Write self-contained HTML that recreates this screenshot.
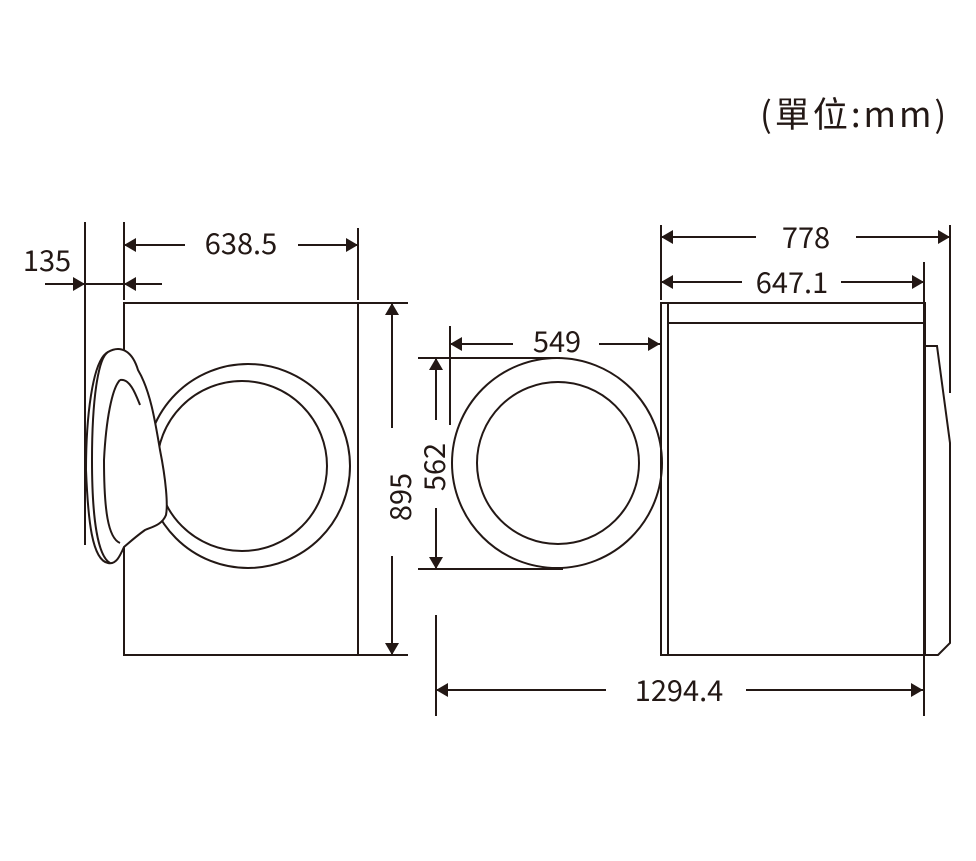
<!DOCTYPE html>
<html><head><meta charset="utf-8"><style>
html,body{margin:0;padding:0;background:#fff;}
svg{display:block;}
text{font-family:"Noto Sans CJK TC","Liberation Sans",sans-serif;fill:#231815;font-weight:400;}
</style></head><body>
<svg width="976" height="861" viewBox="0 0 976 861" xmlns="http://www.w3.org/2000/svg">
<defs>
<marker id="a" viewBox="0 0 12 14" refX="12" refY="7" markerWidth="12" markerHeight="14" markerUnits="userSpaceOnUse" orient="auto-start-reverse">
<path d="M0,0 L12,7 L0,14 Z" fill="#231815"/></marker>
</defs>
<g stroke="#231815" stroke-width="2" fill="none">
<rect x="124" y="303" width="234" height="352"/>
<circle cx="248" cy="466" r="102"/>
<circle cx="242" cy="466" r="85"/>
<path d="M108,352 C120,345 132,350 138,370 C150,390 155,420 160,450 C166,480 168,505 166,515 C162,525 152,527 145,530 C138,535 132,540 124,547 C120,556 116,565 108,563 C92,560 88,520 86,470 C86,420 92,360 108,352 Z" fill="#fff"/>
<path d="M120,380 C112,388 106,420 104,460 C104,510 108,538 120,543"/>
<path d="M120,380 C130,378 136,395 140,405"/>
<path d="M108,352 C98,358 92,400 92,460 C92,520 98,556 110,563"/>
<line x1="85" y1="222" x2="85" y2="545"/>
<line x1="124" y1="222" x2="124" y2="300"/>
<line x1="358" y1="228" x2="358" y2="300"/>
<line x1="124" y1="245" x2="185" y2="245" marker-start="url(#a)"/>
<line x1="298" y1="245" x2="358" y2="245" marker-end="url(#a)"/>
<line x1="45" y1="284" x2="85" y2="284" marker-end="url(#a)"/>
<line x1="85" y1="284" x2="124" y2="284"/>
<line x1="124" y1="284" x2="162" y2="284" marker-start="url(#a)"/>
<line x1="358" y1="303" x2="408" y2="303"/>
<line x1="358" y1="655" x2="408" y2="655"/>
<line x1="392" y1="303" x2="392" y2="428" marker-start="url(#a)"/>
<line x1="392" y1="556" x2="392" y2="655" marker-end="url(#a)"/>
<circle cx="557" cy="463" r="105"/>
<circle cx="558" cy="463" r="81"/>
<line x1="450" y1="326" x2="450" y2="425"/>
<line x1="450" y1="344" x2="513" y2="344" marker-start="url(#a)"/>
<line x1="599" y1="344" x2="660" y2="344" marker-end="url(#a)"/>
<line x1="418" y1="358" x2="560" y2="358"/>
<line x1="418" y1="569" x2="563" y2="569"/>
<line x1="436" y1="358" x2="436" y2="420" marker-start="url(#a)"/>
<line x1="436" y1="508" x2="436" y2="569" marker-end="url(#a)"/>
<line x1="436" y1="615" x2="436" y2="716"/>
<line x1="436" y1="690" x2="606" y2="690" marker-start="url(#a)"/>
<line x1="746" y1="690" x2="923" y2="690" marker-end="url(#a)"/>
<rect x="661" y="303" width="264" height="352"/>
<line x1="668" y1="303" x2="668" y2="655"/>
<line x1="668" y1="323" x2="925" y2="323"/>
<path d="M925,346 L937,346 L950,443 L950,643 L938,655 L925,655"/>
<line x1="950" y1="225" x2="950" y2="393"/>
<line x1="924" y1="262" x2="924" y2="716"/>
<line x1="661" y1="225" x2="661" y2="300"/>
<line x1="661" y1="237" x2="756" y2="237" marker-start="url(#a)"/>
<line x1="856" y1="237" x2="950" y2="237" marker-end="url(#a)"/>
<line x1="661" y1="282" x2="742" y2="282" marker-start="url(#a)"/>
<line x1="841" y1="282" x2="924" y2="282" marker-end="url(#a)"/>
</g>
<g font-size="29">
<text x="241" y="254" text-anchor="middle">638.5</text>
<text x="47" y="271" text-anchor="middle">135</text>
<text x="557" y="352" text-anchor="middle">549</text>
<text x="806" y="248" text-anchor="middle">778</text>
<text x="792" y="293" text-anchor="middle">647.1</text>
<text x="679" y="701" text-anchor="middle">1294.4</text>
<text transform="translate(411,497) rotate(-90)" text-anchor="middle">895</text>
<text transform="translate(445,467) rotate(-90)" text-anchor="middle">562</text>
</g>
<text x="760" y="127" font-size="35" letter-spacing="3">(單位:mm)</text>
</svg>
</body></html>
